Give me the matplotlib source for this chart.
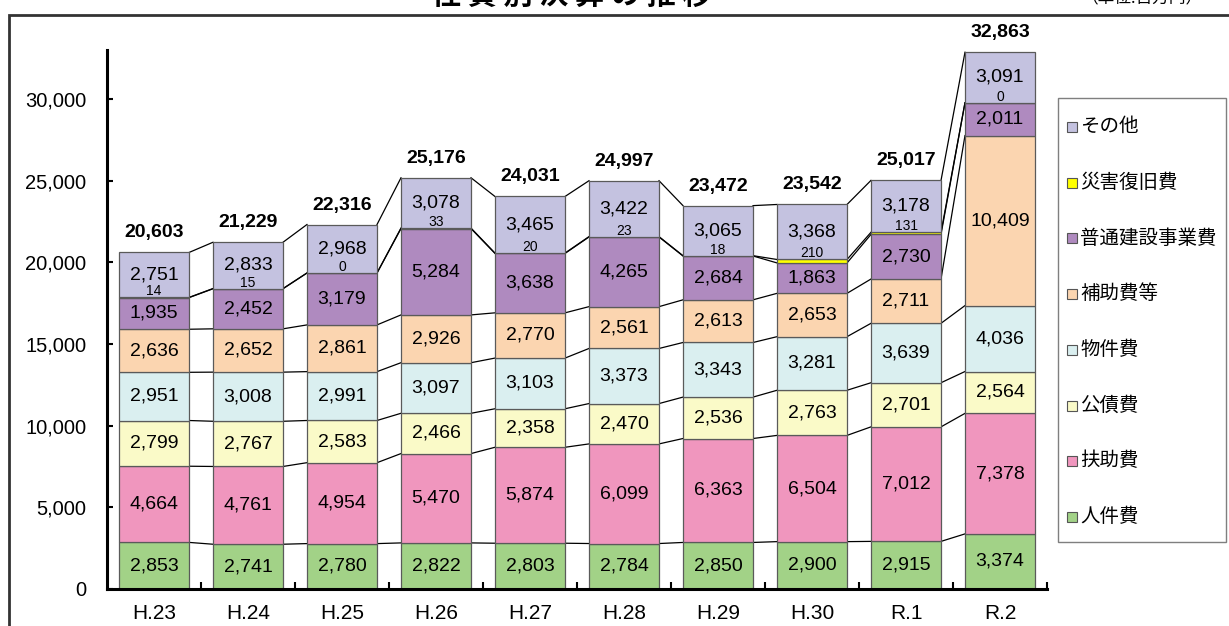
import numpy as np
import matplotlib
matplotlib.use('Agg')
import matplotlib.pyplot as plt
from matplotlib.patches import Rectangle

plt.rcParams['font.family'] = ['Liberation Sans', 'Noto Sans CJK JP', 'DejaVu Sans']

# --- données (百万円) ---
years = ['H.23', 'H.24', 'H.25', 'H.26', 'H.27', 'H.28', 'H.29', 'H.30', 'R.1', 'R.2']
jinkenhi = [2853, 2741, 2780, 2822, 2803, 2784, 2850, 2900, 2915, 3374]
fujohi = [4664, 4761, 4954, 5470, 5874, 6099, 6363, 6504, 7012, 7378]
kosaihi = [2799, 2767, 2583, 2466, 2358, 2470, 2536, 2763, 2701, 2564]
bukkenhi = [2951, 3008, 2991, 3097, 3103, 3373, 3343, 3281, 3639, 4036]
hojohi = [2636, 2652, 2861, 2926, 2770, 2561, 2613, 2653, 2711, 10409]
futsu_kensetsu = [1935, 2452, 3179, 5284, 3638, 4265, 2684, 1863, 2730, 2011]
saigai = [14, 15, 0, 33, 20, 23, 18, 210, 131, 0]
sonota = [2751, 2833, 2968, 3078, 3465, 3422, 3065, 3368, 3178, 3091]

series = [jinkenhi, fujohi, kosaihi, bukkenhi, hojohi, futsu_kensetsu, saigai, sonota]
names = ['人件費', '扶助費', '公債費', '物件費', '補助費等', '普通建設事業費', '災害復旧費', 'その他']
colors = ['#A2D287', '#F096BE', '#FAFAC8', '#DAEFF0', '#FBD5B0', '#AF8ABF', '#FFFF00', '#C4C2E0']

W, H = 1229, 626
fig = plt.figure(figsize=(W / 100, H / 100), dpi=100)
ax = fig.add_axes([107 / W, 1 - 589 / H, (1047 - 107) / W, (589 - 50) / H])

x = np.arange(len(years))
bw = 0.745
bottom = np.zeros(len(years))
levels = []
for vals, name, c in zip(series, names, colors):
    vals = np.array(vals, dtype=float)
    ax.bar(x, vals, bw, bottom=bottom, color=c, edgecolor='#5a5a5a', linewidth=0.9, zorder=2)
    for xi, b, v in zip(x, bottom, vals):
        if name == '災害復旧費':
            ax.annotate(f'{v:,.0f}', (xi, b + v), xytext=(0, 6), textcoords='offset pixels',
                        ha='center', va='center', fontsize=10, zorder=4)
        else:
            ax.text(xi, b + v / 2, f'{v:,.0f}', ha='center', va='center', fontsize=14, zorder=4)
    bottom = bottom + vals
    levels.append(bottom.copy())

# lignes de liaison entre les barres
for lev in levels:
    for i in range(len(x) - 1):
        ax.plot([x[i] + bw / 2, x[i + 1] - bw / 2], [lev[i], lev[i + 1]],
                color='black', lw=0.9, zorder=1)

# totaux
for xi, tot in zip(x, bottom):
    ax.annotate(f'{tot:,.0f}', (xi, tot), xytext=(0, 15), textcoords='offset pixels',
                ha='center', va='baseline', fontsize=14, fontweight='bold')

ax.set_xlim(-0.5, 9.5)
ax.set_ylim(0, 33000)
ax.spines['top'].set_visible(False)
ax.spines['right'].set_visible(False)
ax.spines['left'].set_linewidth(2.2)
ax.spines['bottom'].set_linewidth(2.2)

yt = np.arange(0, 30001, 5000)
ax.set_yticks(yt)
ax.set_yticklabels([f'{v:,}' for v in yt])
ax.tick_params(axis='y', direction='in', length=4.5, width=1.5, pad=15, labelsize=14.5)

ax.set_xticks(x)
ax.set_xticklabels(years)
ax.set_xticks(np.arange(0.5, 10, 1), minor=True)
ax.tick_params(axis='x', which='major', length=0, pad=11, labelsize=15)
ax.tick_params(axis='x', which='minor', direction='in', length=5, width=1.5)

# cadre extérieur
fig.patches.append(Rectangle((9 / W, -0.1), 2, 1 - 15 / H + 0.1, transform=fig.transFigure,
                             fill=False, edgecolor='#333333', lw=2))

# légende (dessinée à la main)
fig.patches.append(Rectangle((1058 / W, 1 - 542 / H), (1226 - 1058) / W, (542 - 98) / H,
                             transform=fig.transFigure, facecolor='white',
                             edgecolor='#7f7f7f', lw=1))
for k, (name, c) in enumerate(zip(names[::-1], colors[::-1])):
    yc = 127 + 55.7 * k
    fig.patches.append(Rectangle((1067 / W, 1 - (yc + 5) / H), 10 / W, 10 / H,
                                 transform=fig.transFigure, facecolor=c,
                                 edgecolor='#555555', lw=0.8))
    fig.text(1080 / W, 1 - yc / H, name, ha='left', va='center', fontsize=14)

# titre (coupé en haut comme l'original)
fig.text(572 / W, 1 + 5 / H, '性 質 別 決 算 の 推 移', ha='center', va='center',
         fontsize=21, fontweight='bold', family=['Noto Sans CJK JP', 'DejaVu Sans'])
fig.text(1142 / W, 1 + 2 / H, '（単位:百万円）', ha='center', va='center', fontsize=12,
         family=['Noto Sans CJK JP', 'DejaVu Sans'])

fig.savefig('out.png', dpi=100)
